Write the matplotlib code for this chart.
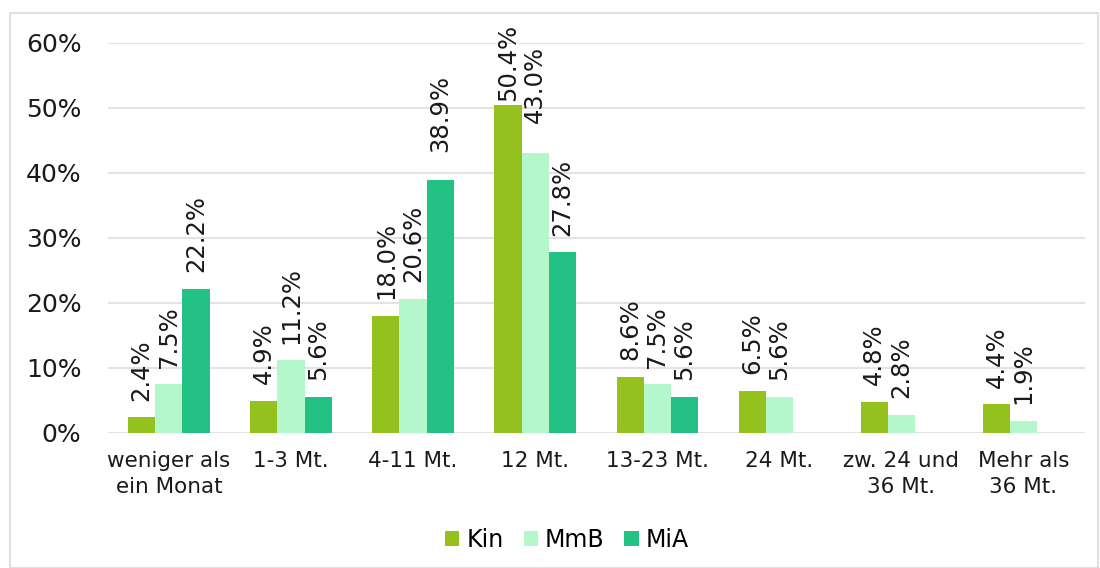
import numpy as np
import matplotlib
matplotlib.use("Agg")
import matplotlib.pyplot as plt
from matplotlib.patches import Rectangle

plt.rcParams['font.family'] = ['DejaVu Sans']

categories = ['weniger als\nein Monat', '1-3 Mt.', '4-11 Mt.', '12 Mt.', '13-23 Mt.',
              '24 Mt.', 'zw. 24 und\n36 Mt.', 'Mehr als\n36 Mt.']
series = ['Kin', 'MmB', 'MiA']
kin = [2.4, 4.9, 18.0, 50.4, 8.6, 6.5, 4.8, 4.4]
mmb = [7.5, 11.2, 20.6, 43.0, 7.5, 5.6, 2.8, 1.9]
mia = [22.2, 5.6, 38.9, 27.8, 5.6, None, None, None]
colors = ['#95C11F', '#B3F7CA', '#23C184']

# Excel verschiebt einige Beschriftungen, um Überlappungen zu vermeiden (in Punkten)
label_shift = {(2, 2): 8, (1, 3): 10, (0, 3): -9}

fig = plt.figure(figsize=(11, 5.68), dpi=100)
ax = fig.add_axes([0.098, 0.2377, 0.888, 0.6866])

# Rahmen um das Diagramm
fig.patches.append(Rectangle((10 / 1100, 0), 1088 / 1100, 1 - 13 / 568,
                             transform=fig.transFigure, fill=False,
                             edgecolor='#D9D9D9', linewidth=1.2))

x = np.arange(len(categories))
w = 0.222
for i, (name, vals) in enumerate(zip(series, [kin, mmb, mia])):
    pos = x + (i - 1) * w
    v = np.array([np.nan if a is None else a for a in vals], dtype=float)
    ax.bar(pos, v / 100, width=w, color=colors[i], label=name, zorder=3)
    for j, (px, val) in enumerate(zip(pos, v)):
        if np.isnan(val):
            continue
        off = 12 + label_shift.get((i, j), 0)
        ax.annotate(f'{val:.1f}%', (px, val / 100), xytext=(0, off),
                    textcoords='offset points', rotation=90,
                    ha='center', va='bottom', fontsize=17.5, color='#1a1a1a',
                    annotation_clip=False)

ax.set_xlim(-0.5, len(categories) - 0.5)
ax.set_ylim(0, 0.6)
ax.set_yticks(np.arange(0, 0.61, 0.1))
ax.set_yticklabels([f'{int(round(t * 100))}%' for t in np.arange(0, 0.61, 0.1)], fontsize=18)
ax.set_xticks(x)
ax.set_xticklabels(categories, fontsize=15.5, linespacing=1.35)
ax.tick_params(axis='both', length=0, colors='#1a1a1a')
ax.tick_params(axis='y', pad=19)
ax.tick_params(axis='x', pad=13)
ax.grid(axis='y', color='#E3E3E3', linewidth=1.5, zorder=0)
for s in ax.spines.values():
    s.set_visible(False)

ax.legend(loc='center', bbox_to_anchor=(0.47, -0.274), ncol=3, frameon=False,
          fontsize=17, handlelength=0.6, handleheight=0.6, handletextpad=0.3,
          columnspacing=0.85)

fig.savefig('out.png', dpi=100)
